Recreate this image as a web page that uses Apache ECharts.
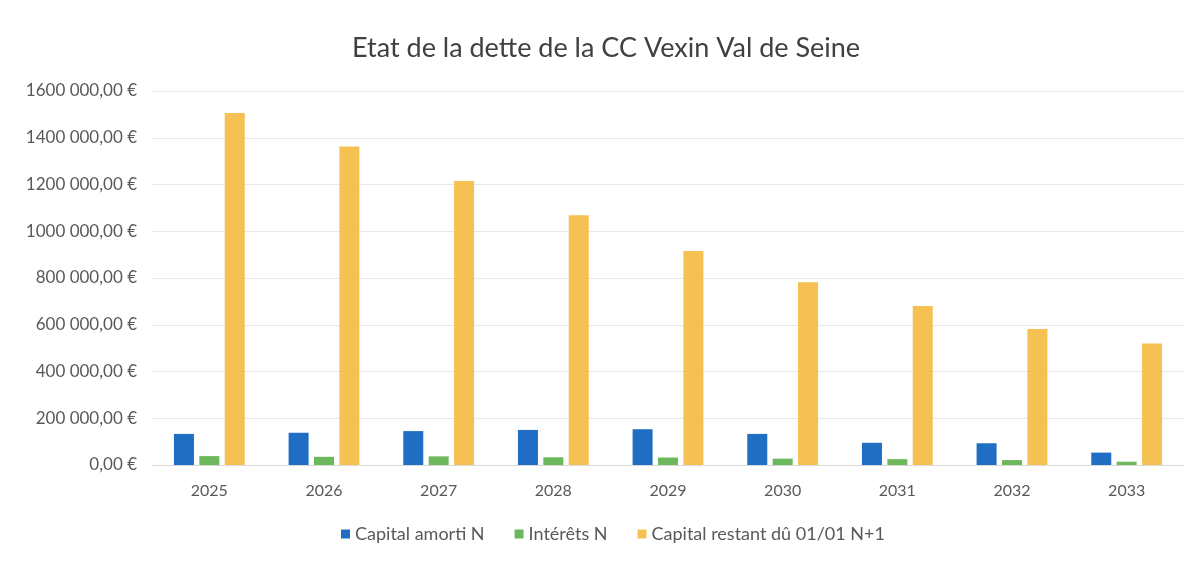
<!DOCTYPE html>
<html>
<head>
<meta charset="utf-8">
<script src="https://cdn.jsdelivr.net/npm/echarts@6/dist/echarts.min.js"></script>
<style>
  html, body { margin: 0; padding: 0; background: #fff; }
  #main { width: 1197px; height: 561px; }
</style>
</head>
<body>
<div id="main"></div>
<script>
// données
var annees = ['2025', '2026', '2027', '2028', '2029', '2030', '2031', '2032', '2033'];
var capitalAmorti = [133000, 138000, 145000, 150000, 153000, 133000, 95000, 93000, 53000];
var interets = [38000, 35000, 37000, 33000, 32000, 27000, 25000, 21000, 14000];
var capitalRestant = [1506000, 1363000, 1215000, 1068000, 915000, 782000, 680000, 582000, 520000];
var yTicks = ['0,00 €', '200 000,00 €', '400 000,00 €', '600 000,00 €', '800 000,00 €',
  '1000 000,00 €', '1200 000,00 €', '1400 000,00 €', '1600 000,00 €'];

var chart = echarts.init(document.getElementById('main'));

var option = {
  animation: false,
  textStyle: { fontFamily: 'Lato' },
  title: {
    text: 'Etat de la dette de la CC Vexin Val de Seine',
    left: 347,
    top: 30,
    textStyle: { fontFamily: 'Lato', fontSize: 27, fontWeight: 'normal', color: '#404040' }
  },
  legend: {
    top: 520,
    left: 336,
    itemWidth: 9,
    itemHeight: 9,
    itemGap: 30,
    icon: 'rect',
    textStyle: { fontFamily: 'Lato', fontSize: 18, color: '#595959' },
    data: ['Capital amorti N', 'Intérêts N', 'Capital restant dû 01/01 N+1']
  },
  grid: { left: 152, top: 91, width: 1032, height: 374 },
  xAxis: {
    type: 'category',
    data: annees,
    axisLine: { lineStyle: { color: '#d9d9d9' } },
    axisTick: { show: false },
    axisLabel: { fontFamily: 'Lato', fontSize: 16, color: '#595959', margin: 18 }
  },
  yAxis: {
    type: 'value',
    min: 0,
    max: 1600000,
    interval: 200000,
    axisLine: { show: false },
    axisTick: { show: false },
    splitLine: { lineStyle: { color: '#e8e8e8' } },
    axisLabel: {
      fontFamily: 'Lato', fontSize: 17, color: '#595959', margin: 15,
      formatter: function (v) { return yTicks[Math.round(v / 200000)]; }
    }
  },
  series: [
    {
      name: 'Capital amorti N',
      type: 'bar',
      data: capitalAmorti,
      barWidth: 20,
      barGap: '27%',
      itemStyle: { color: '#1F6EC4' }
    },
    {
      name: 'Intérêts N',
      type: 'bar',
      data: interets,
      barWidth: 20,
      barGap: '27%',
      itemStyle: { color: '#6DB75C' }
    },
    {
      name: 'Capital restant dû 01/01 N+1',
      type: 'bar',
      data: capitalRestant,
      barWidth: 20,
      barGap: '27%',
      itemStyle: { color: '#F4C152' }
    }
  ]
};

chart.setOption(option);
</script>
</body>
</html>
